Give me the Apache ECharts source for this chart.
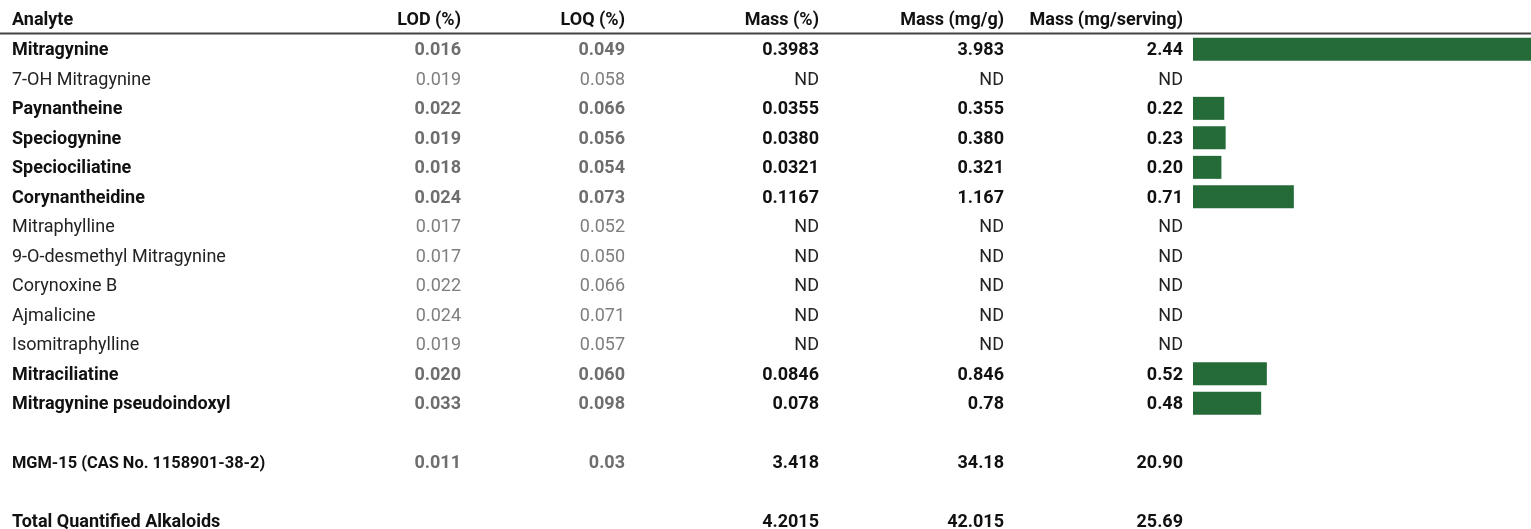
<!DOCTYPE html>
<html>
<head>
<meta charset="utf-8">
<script src="https://cdn.jsdelivr.net/npm/echarts@6/dist/echarts.min.js"></script>
<style>
html,body{margin:0;padding:0;background:#fff;}
#chart{width:1531px;height:529px;}
</style>
</head>
<body>
<div id="chart"></div>
<script>
// ---- data ----
var analytes = ['Mitragynine','7-OH Mitragynine','Paynantheine','Speciogynine','Speciociliatine','Corynantheidine','Mitraphylline','9-O-desmethyl Mitragynine','Corynoxine B','Ajmalicine','Isomitraphylline','Mitraciliatine','Mitragynine pseudoindoxyl','','MGM-15 (CAS No. 1158901-38-2)','','Total Quantified Alkaloids'];
var rowTypes = ['det','nd','det','det','det','det','nd','nd','nd','nd','nd','det','det','blank','mgm','blank','total'];
var lod = ['0.016','0.019','0.022','0.019','0.018','0.024','0.017','0.017','0.022','0.024','0.019','0.020','0.033','','0.011','',''];
var loq = ['0.049','0.058','0.066','0.056','0.054','0.073','0.052','0.050','0.066','0.071','0.057','0.060','0.098','','0.03','',''];
var massPct = ['0.3983','ND','0.0355','0.0380','0.0321','0.1167','ND','ND','ND','ND','ND','0.0846','0.078','','3.418','','4.2015'];
var massMgG = ['3.983','ND','0.355','0.380','0.321','1.167','ND','ND','ND','ND','ND','0.846','0.78','','34.18','','42.015'];
var massServing = ['2.44','ND','0.22','0.23','0.20','0.71','ND','ND','ND','ND','ND','0.52','0.48','','20.90','','25.69'];
var barValues = [2.44,null,0.22,0.23,0.20,0.71,null,null,null,null,null,0.52,0.48,null,null,null,null];
var headers = ['Analyte','LOD (%)','LOQ (%)','Mass (%)','Mass (mg/g)','Mass (mg/serving)'];

var FONT = 'Roboto, "Noto Sans", sans-serif';
var rowIdx = analytes.map(function(_, i){ return String(i); });

function styleKey(i, isLimit, isNameCol){
  var t = rowTypes[i];
  if (isLimit) return t === 'nd' ? 'gn' : 'gb';
  if (t === 'nd') return 'n';
  if (isNameCol && t === 'mgm') return 'm';
  return 'b';
}
var rich = {
  b: {fontFamily: FONT, fontSize: 18, fontWeight: 'bold', color: '#111'},
  n: {fontFamily: FONT, fontSize: 18, fontWeight: 'normal', color: '#222'},
  m: {fontFamily: FONT, fontSize: 16.4, fontWeight: 'bold', color: '#111'},
  gb: {fontFamily: FONT, fontSize: 18, fontWeight: 'bold', color: '#6e6e6e'},
  gn: {fontFamily: FONT, fontSize: 18, fontWeight: 'normal', color: '#7e7e7e'}
};

function colAxis(arr, offset, align, isLimit, isNameCol){
  return {
    type: 'category', data: rowIdx, inverse: true, position: 'left', offset: offset,
    gridIndex: 0,
    axisLine: {show: false}, axisTick: {show: false}, splitLine: {show: false},
    axisLabel: {
      show: true, margin: 0, align: align, interval: 0, padding: [3, 0, 0, 0],
      formatter: function(v, i){
        var s = arr[i];
        if (!s) return '';
        return '{' + styleKey(i, isLimit, isNameCol) + '|' + s + '}';
      },
      rich: rich
    }
  };
}

var GRID_LEFT = 1193;
// right edges of text columns
var colRight = [461, 625, 819, 1004, 1183];

var chart = echarts.init(document.getElementById('chart'), null, {renderer: 'canvas'});
function headerText(txt, x, align){
  return {type: 'text', x: x, y: 20, style: {
    text: txt, fontFamily: FONT, fontSize: 18, fontWeight: 'bold',
    fill: '#111', align: align, verticalAlign: 'middle'
  }};
}
var option = {
  backgroundColor: '#ffffff',
  animation: false,
  grid: {left: GRID_LEFT, right: 0, top: 34.6, height: 501.5, containLabel: false, outerBoundsMode: 'none'},
  xAxis: {type: 'value', min: 0, max: 2.38, show: false},
  yAxis: [
    {type: 'category', data: rowIdx, inverse: true, position: 'left', show: false},
    colAxis(analytes, GRID_LEFT - 12, 'left', false, true),
    colAxis(lod, GRID_LEFT - colRight[0], 'right', true, false),
    colAxis(loq, GRID_LEFT - colRight[1], 'right', true, false),
    colAxis(massPct, GRID_LEFT - colRight[2], 'right', false, false),
    colAxis(massMgG, GRID_LEFT - colRight[3], 'right', false, false),
    colAxis(massServing, GRID_LEFT - colRight[4], 'right', false, false)
  ],
  series: [{
    type: 'bar', yAxisIndex: 0, data: barValues, barWidth: 23,
    itemStyle: {color: '#246b38'}, clip: true, silent: true
  }],
  graphic: [
    {type: 'line', shape: {x1: 0, y1: 33.5, x2: 1531, y2: 33.5}, style: {stroke: '#444', lineWidth: 2}, z: 10},
    headerText(headers[0], 12, 'left'),
    headerText(headers[1], colRight[0], 'right'),
    headerText(headers[2], colRight[1], 'right'),
    headerText(headers[3], colRight[2], 'right'),
    headerText(headers[4], colRight[3], 'right'),
    headerText(headers[5], colRight[4], 'right')
  ]
};
chart.setOption(option);
</script>
</body>
</html>
